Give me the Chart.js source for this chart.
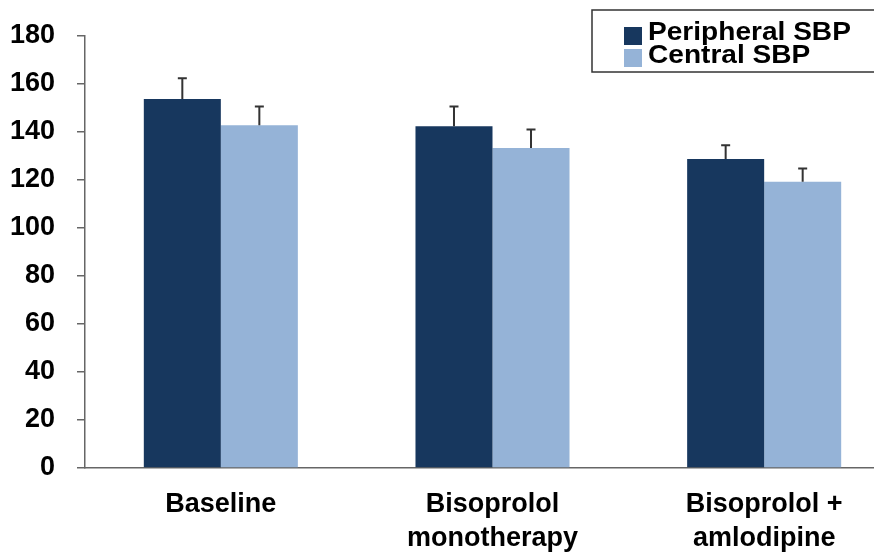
<!DOCTYPE html>
<html>
<head>
<meta charset="utf-8">
<script src="https://cdn.jsdelivr.net/npm/chart.js@4"></script>
<style>
  html, body { margin: 0; padding: 0; background: #fff; overflow: hidden; }
  #wrap { width: 900px; height: 552px; }
</style>
</head>
<body>
<div id="wrap"><canvas id="sbpChart"></canvas></div>
<script>
// data
const categories = ["Baseline", ["Bisoprolol", "monotherapy"], ["Bisoprolol +", "amlodipine"]];
const seriesNames = ["Peripheral SBP", "Central SBP"];
const peripheral = [153.7, 142.4, 128.8];
const peripheralErr = [8.7, 8.2, 5.7];
const central = [142.8, 133.3, 119.3];
const centralErr = [7.8, 7.7, 5.5];
const yTicks = [0, 20, 40, 60, 80, 100, 120, 140, 160, 180];

const darkBlue = "#17375E";
const lightBlue = "#95B3D7";
const labelFont = { family: "'Liberation Sans', Arial, sans-serif", size: 27, weight: "bold", lineHeight: 1.26 };

// error bars (up only)
const errorBars = {
  id: "errorBars",
  afterDatasetsDraw(chart) {
    const ctx = chart.ctx;
    const y = chart.scales.y;
    const errs = [peripheralErr, centralErr];
    ctx.save();
    ctx.strokeStyle = "#333";
    ctx.lineWidth = 2;
    chart.data.datasets.forEach((ds, di) => {
      chart.getDatasetMeta(di).data.forEach((bar, i) => {
        const top = y.getPixelForValue(ds.data[i] + errs[di][i]);
        ctx.beginPath();
        ctx.moveTo(bar.x, bar.y);
        ctx.lineTo(bar.x, top);
        ctx.moveTo(bar.x - 4.5, top);
        ctx.lineTo(bar.x + 4.5, top);
        ctx.stroke();
      });
    });
    ctx.restore();
  },
};

// boxed legend top right
const boxLegend = {
  id: "boxLegend",
  afterDraw(chart) {
    const ctx = chart.ctx;
    ctx.save();
    ctx.fillStyle = "#fff";
    ctx.fillRect(592, 10, 320, 62);
    ctx.strokeStyle = "#333";
    ctx.lineWidth = 1.5;
    ctx.strokeRect(592, 10, 320, 62);
    ctx.fillStyle = darkBlue;
    ctx.fillRect(624, 27, 18, 18);
    ctx.fillStyle = lightBlue;
    ctx.fillRect(624, 49, 18, 18);
    ctx.font = "bold 26px 'Liberation Sans', Arial, sans-serif";
    ctx.textBaseline = "alphabetic";
    ctx.fillStyle = "#000";
    ctx.translate(648, 0);
    ctx.scale(1.08, 1);
    ctx.fillText(seriesNames[0], 0, 40);
    ctx.fillText(seriesNames[1], 0, 63);
    ctx.restore();
  },
};

const ctx1 = document.getElementById("sbpChart").getContext("2d");
const sbpChart = new Chart(ctx1, {
  type: "bar",
  data: {
    labels: categories,
    datasets: [
      {
        label: seriesNames[0],
        data: peripheral,
        backgroundColor: darkBlue,
        borderWidth: 0,
      },
      {
        label: seriesNames[1],
        data: central,
        backgroundColor: lightBlue,
        borderWidth: 0,
      },
    ],
  },
  options: {
    responsive: true,
    maintainAspectRatio: false,
    animation: false,
    categoryPercentage: 0.567,
    barPercentage: 1,
    layout: { padding: { top: 36, left: 0, right: 0, bottom: 0 } },
    plugins: { legend: { display: false }, tooltip: { enabled: false } },
    scales: {
      x: {
        grid: { display: false, drawTicks: false },
        border: { color: "#666", width: 1.5 },
        ticks: { color: "#000", font: labelFont, padding: 20, maxRotation: 0, autoSkip: false },
        afterFit(s) { s.height = 84; },
      },
      y: {
        min: 0,
        max: 180,
        afterBuildTicks(s) { s.ticks = yTicks.map((v) => ({ value: v })); },
        grid: { drawOnChartArea: false, tickLength: 8, color: "#666", lineWidth: 1.5 },
        border: { color: "#666", width: 1.5 },
        ticks: { color: "#000", font: labelFont, padding: 22 },
        afterFit(s) { s.width = 85; s.paddingTop = 0; s.paddingBottom = 0; },
      },
    },
  },
  plugins: [errorBars, boxLegend],
});
</script>
</body>
</html>
